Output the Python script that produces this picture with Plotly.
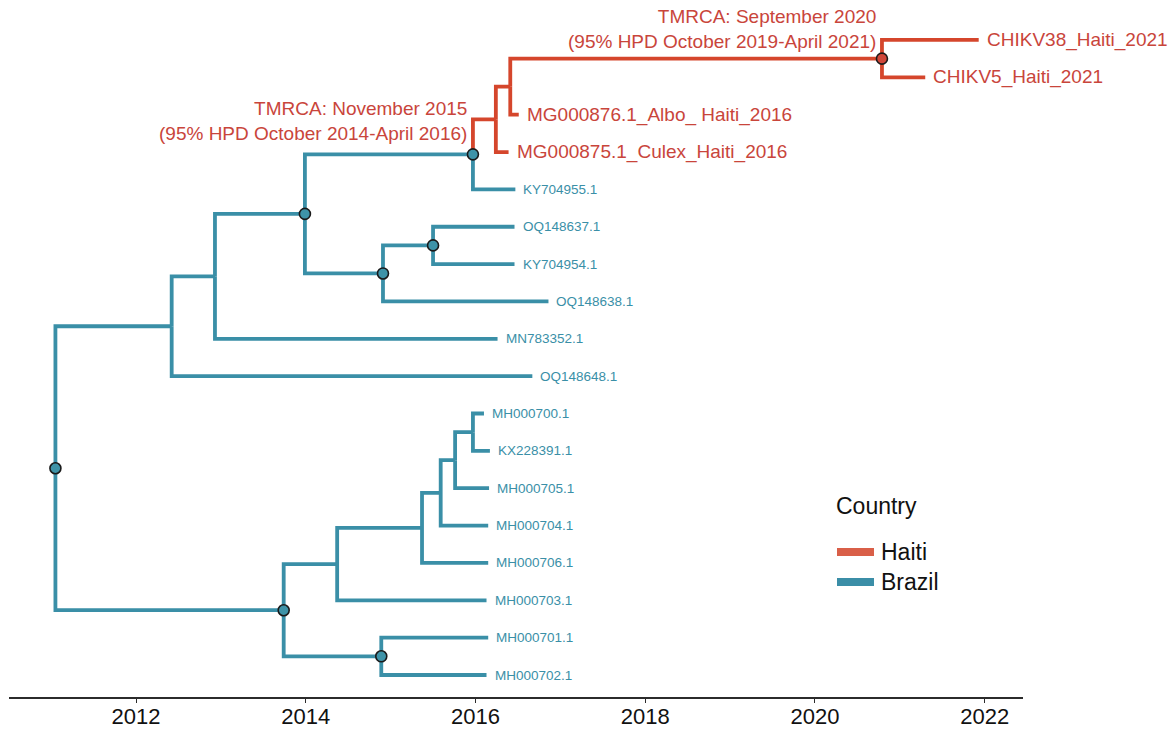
import plotly.graph_objects as go

# ---------------- data ----------------
# tips, listed top to bottom
tip_labels = ["CHIKV38_Haiti_2021", "CHIKV5_Haiti_2021", "MG000876.1_Albo_ Haiti_2016",
              "MG000875.1_Culex_Haiti_2016", "KY704955.1", "OQ148637.1", "KY704954.1",
              "OQ148638.1", "MN783352.1", "OQ148648.1", "MH000700.1", "KX228391.1",
              "MH000705.1", "MH000704.1", "MH000706.1", "MH000703.1", "MH000701.1", "MH000702.1"]
tip_years = [2021.93, 2021.30, 2016.51, 2016.39, 2016.47, 2016.46, 2016.46,
             2016.86, 2016.26, 2016.67, 2016.10, 2016.17,
             2016.16, 2016.15, 2016.15, 2016.13, 2016.15, 2016.13]
tip_country = ["Haiti", "Haiti", "Haiti", "Haiti", "Brazil", "Brazil", "Brazil",
               "Brazil", "Brazil", "Brazil", "Brazil", "Brazil",
               "Brazil", "Brazil", "Brazil", "Brazil", "Brazil", "Brazil"]

# internal nodes
node_names = ["root", "A", "B", "C", "D", "E1", "E2", "H", "E", "F",
              "L1", "L2", "L3", "L4", "L5", "L6", "L7"]
node_years = [2011.05, 2012.42, 2012.93, 2013.99, 2015.97, 2016.24, 2016.41, 2020.79, 2014.91, 2015.50,
              2013.74, 2014.89, 2014.37, 2015.37, 2015.59, 2015.76, 2015.97]
node_country = ["Brazil", "Brazil", "Brazil", "Brazil", "Brazil", "Haiti", "Haiti", "Haiti", "Brazil", "Brazil",
                "Brazil", "Brazil", "Brazil", "Brazil", "Brazil", "Brazil", "Brazil"]
node_marked = ["root", "C", "D", "H", "E", "F", "L1", "L2"]

edge_parent = ["root", "root", "A", "A", "B", "B", "C", "C", "D", "D", "E1", "E1", "E2", "E2",
               "H", "H", "E", "E", "F", "F", "L1", "L1", "L3", "L3", "L4", "L4", "L5", "L5",
               "L6", "L6", "L7", "L7", "L2", "L2"]
edge_child = ["A", "L1", "B", "OQ148648.1", "C", "MN783352.1", "D", "E", "E1", "KY704955.1",
              "E2", "MG000875.1_Culex_Haiti_2016", "H", "MG000876.1_Albo_ Haiti_2016",
              "CHIKV38_Haiti_2021", "CHIKV5_Haiti_2021", "F", "OQ148638.1", "OQ148637.1", "KY704954.1",
              "L3", "L2", "L4", "MH000703.1", "L5", "MH000706.1", "L6", "MH000704.1",
              "L7", "MH000705.1", "MH000700.1", "KX228391.1", "MH000701.1", "MH000702.1"]

tmrca_nodes = ["D", "H"]
tmrca_texts = ["TMRCA: November 2015<br>(95% HPD October 2014-April 2016)",
               "TMRCA: September 2020<br>(95% HPD October 2019-April 2021)"]

legend_title = "Country"
legend_labels = ["Haiti", "Brazil"]
x_ticks = [2012, 2014, 2016, 2018, 2020, 2022]

# ---------------- styles ----------------
line_col = {"Haiti": "#D5462C", "Brazil": "#3A8FA7"}
text_col = {"Haiti": "#C9453B", "Brazil": "#3A8FA7"}
legend_col = {"Haiti": "#D95F48", "Brazil": "#3B8EA7"}
dot_col = {"Haiti": "#D0473A", "Brazil": "#3E93A8"}
FONT = "Liberation Sans, Arial, Helvetica, sans-serif"

# plot area in pixels (for placing the legend)
PL, PR, PT, PB = 9, 1023, 0, 697


def px_x(px):
    return (px - PL) / (PR - PL)


def px_y(py):
    return (PB - py) / (PB - PT)


# ---------------- layout of the tree (ggtree-like) ----------------
xpos, ypos, group = {}, {}, {}
n = len(tip_labels)
for i, (lab, yr, c) in enumerate(zip(tip_labels, tip_years, tip_country)):
    xpos[lab] = yr
    ypos[lab] = n - i
    group[lab] = c
for nm, yr, c in zip(node_names, node_years, node_country):
    xpos[nm] = yr
    group[nm] = c
children = {}
for p, ch in zip(edge_parent, edge_child):
    children.setdefault(p, []).append(ch)


def get_y(nm):
    if nm not in ypos:
        ys = [get_y(c) for c in children[nm]]
        ypos[nm] = sum(ys) / len(ys)
    return ypos[nm]


for nm in node_names:
    get_y(nm)

fig = go.Figure()

for g in ["Brazil", "Haiti"]:
    xs, ys = [], []
    for p, ch in zip(edge_parent, edge_child):
        if group[ch] != g:
            continue
        xs += [xpos[p], xpos[p], xpos[ch], None]
        ys += [ypos[p], ypos[ch], ypos[ch], None]
    fig.add_trace(go.Scatter(x=xs, y=ys, mode="lines", name=g, showlegend=False, hoverinfo="skip",
                             line=dict(color=line_col[g], width=3.8)))

# node circles
fig.add_trace(go.Scatter(
    x=[xpos[m] for m in node_marked], y=[ypos[m] for m in node_marked],
    mode="markers", showlegend=False, hoverinfo="skip",
    marker=dict(size=11, color=[dot_col[group[m]] for m in node_marked],
                line=dict(color="#1a1a1a", width=1.6))))

annotations = []
for lab in tip_labels:
    g = group[lab]
    annotations.append(dict(
        x=xpos[lab], y=ypos[lab], xref="x", yref="y", text=lab, showarrow=False,
        xanchor="left", yanchor="middle", xshift=6,
        font=dict(family=FONT, size=19 if g == "Haiti" else 13.5, color=text_col[g])))

for nm, txt, ys in zip(tmrca_nodes, tmrca_texts, [8, 5]):
    annotations.append(dict(
        x=xpos[nm], y=ypos[nm], xref="x", yref="y", text=txt, showarrow=False,
        xanchor="right", yanchor="bottom", align="right", xshift=-4, yshift=ys,
        font=dict(family=FONT, size=19, color=text_col["Haiti"])))

# legend (drawn by hand to match the ggplot layout)
shapes = []
annotations.append(dict(x=px_x(834), y=px_y(506), xref="paper", yref="paper", text=legend_title,
                        showarrow=False, xanchor="left", yanchor="middle",
                        font=dict(family=FONT, size=23, color="#111")))
for lab, yy in zip(legend_labels, [552, 582]):
    shapes.append(dict(type="line", xref="paper", yref="paper",
                       x0=px_x(837), x1=px_x(874), y0=px_y(yy), y1=px_y(yy),
                       line=dict(color=legend_col[lab], width=8)))
    annotations.append(dict(x=px_x(879), y=px_y(yy), xref="paper", yref="paper", text=lab,
                            showarrow=False, xanchor="left", yanchor="middle",
                            font=dict(family=FONT, size=23, color="#111")))

fig.update_layout(
    template="none",
    width=1175, height=729,
    margin=dict(l=PL, r=1175 - PR, t=PT, b=729 - PB, autoexpand=False),
    paper_bgcolor="white", plot_bgcolor="white",
    font=dict(family=FONT),
    showlegend=False,
    annotations=annotations,
    shapes=shapes,
    xaxis=dict(range=[2010.503, 2022.452], tickvals=x_ticks, ticktext=[str(t) for t in x_ticks],
               automargin=False, ticklabelstandoff=-5,
               showgrid=False, zeroline=False, showline=True, linecolor="#2b2b2b", linewidth=1.6,
               ticks="outside", ticklen=4, tickwidth=1.4, tickcolor="#2b2b2b",
               tickfont=dict(size=22, color="#111", family=FONT)),
    yaxis=dict(range=[0.411, 19.07], visible=False, showgrid=False, zeroline=False, automargin=False),
)

fig.write_html("out.html", config={"displayModeBar": False},
               post_script="document.body.style.margin='0';")
